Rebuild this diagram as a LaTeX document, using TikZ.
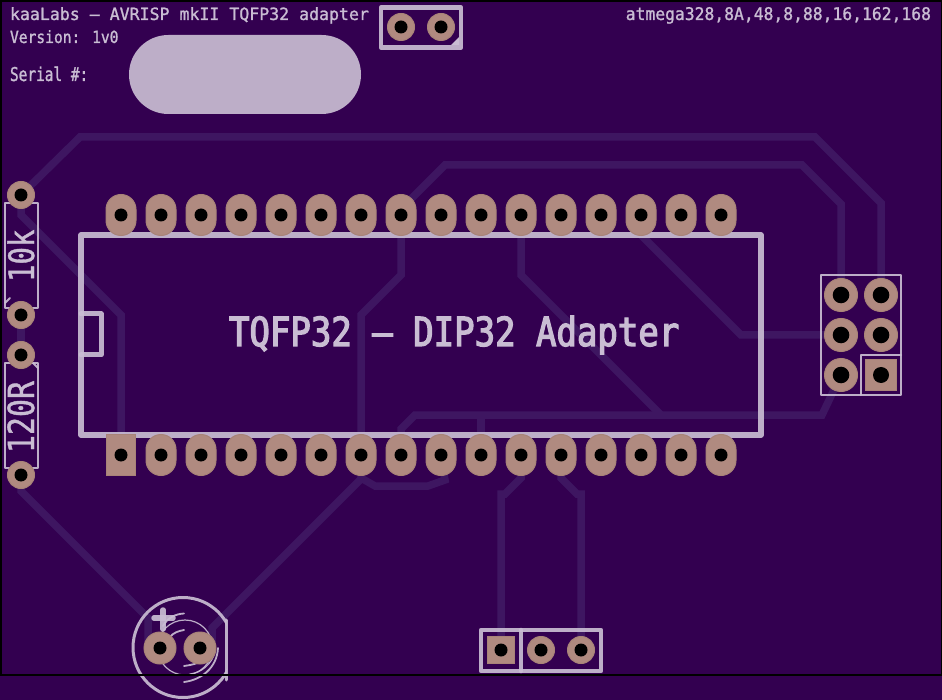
\documentclass[tikz,border=0pt]{standalone}
\usepackage{fontspec}
\usetikzlibrary{shapes.misc}
\setmainfont{DejaVu Sans Mono}
\newfontfamily\pcbtitle[FakeBold=1.2,FakeStretch=.98]{DejaVu Sans Mono}
\newfontfamily\pcbversion[FakeBold=1.2,FakeStretch=.87]{DejaVu Sans Mono}
\newfontfamily\pcbserial[FakeBold=1.2,FakeStretch=.76]{DejaVu Sans Mono}
\newfontfamily\pcbparts[FakeBold=1.2,FakeStretch=.94]{DejaVu Sans Mono}
\newfontfamily\pcbbig[FakeBold=3,FakeStretch=.85]{DejaVu Sans Mono}
\newfontfamily\pcbres[FakeBold=1,FakeStretch=.83]{DejaVu Sans Mono}
\definecolor{board}{HTML}{330050}
\definecolor{trackc}{HTML}{3E1661}
\definecolor{silkc}{HTML}{C9BDD3}
\definecolor{padc}{HTML}{B08A80}
\definecolor{padedge}{HTML}{A88378}
\pgfdeclarelayer{tracks}
\pgfdeclarelayer{silk}
\pgfdeclarelayer{front}
\pgfsetlayers{tracks,silk,main,front}
\tikzset{
  track/.style={draw=trackc,line width=7.5pt,line join=miter},
  silkline/.style={draw=silkc,opacity=.92,line join=round,line cap=round},
  silkthick/.style={silkline,line width=4.5pt},
  silkthin/.style={silkline,line width=2pt},
  silkfine/.style={silkline,line width=1.2pt},
  pcbbase/.style={inner sep=0pt,outer sep=0pt,draw=padedge,line width=1pt,fill=padc},
  ovalpad/.style={pcbbase,rounded rectangle,rotate=90,minimum width=41pt,minimum height=30pt},
  sqpad/.style={pcbbase,rectangle,minimum width=#1,minimum height=#1},
  tallpad/.style={pcbbase,rectangle,minimum width=29pt,minimum height=41pt},
  roundpad/.style={pcbbase,circle,minimum size=#1},
  hole/.style={fill=black},
  label/.style={inner sep=0pt,outer sep=0pt,text=silkc,anchor=base west},
}
\begin{document}
\begin{tikzpicture}[x=1pt,y=-1pt]
\useasboundingbox (0,0) rectangle (942,700);
\begin{pgfonlayer}{tracks}
\fill[board] (0,0) rectangle (942,700);
\end{pgfonlayer}

% pads
\node[tallpad] (b0) at (121,455) {};
\foreach \i [evaluate=\i as \px using {121+40*\i}] in {0,...,15}{
  \node[ovalpad] (t\i) at (\px,215) {};
  \fill[hole] (t\i.center) circle (6.5);
}
\foreach \i [evaluate=\i as \px using {121+40*\i}] in {1,...,15}{
  \node[ovalpad] (b\i) at (\px,455) {};
  \fill[hole] (b\i.center) circle (6.5);
}
\fill[hole] (b0.center) circle (6.5);
\foreach \n/\px/\py in {ra/21/195,rb/21/315,rc/21/355,rd/21/475,ja/401/27,jb/441/27,pb/541/650,pc/581/650}{
  \node[roundpad=27pt] (\n) at (\px,\py) {};
  \fill[hole] (\n.center) circle (6.5);
}
\node[sqpad=27pt] (pa) at (501,650) {};
\fill[hole] (pa.center) circle (6.5);
\foreach \n/\px/\py in {ca/160/648,cb/200/648}{
  \node[roundpad=32pt] (\n) at (\px,\py) {};
  \fill[hole] (\n.center) circle (6.5);
}
\foreach \n/\px/\py in {ia/841/295,ib/881/295,ic/841/335,id/881/335,ie/841/375}{
  \node[roundpad=33pt] (\n) at (\px,\py) {};
  \fill[hole] (\n.center) circle (8.3);
}
\node[sqpad=31pt] (if) at (881,375) {};
\fill[hole] (if.center) circle (8);

% tracks
\begin{pgfonlayer}{tracks}
\draw[track] (ra.center) -- (80,137) -- (815,137) -- (881,203) -- (ib.center);
\draw[track] (t7.center) -- (401,209) -- (445,165) -- (802,165) -- (841,204) -- (ia.center);
\draw[track] (t7.center) -- (401,275) -- (361,315) -- (b6.center);
\draw[track] (t10.center) -- (521,275) -- (661,415);
\draw[track] (t13.center) -- (641,235) -- (741,335) -- (ic.center);
\draw[track] (ie.center) -- (822,415) -- (415,415) -- (401,429) -- (b7.center);
\draw[track] (481,415) -- (b9.center);
\draw[track] (ra.center) -- (21,215) -- (121,315) -- (b0.center);
\draw[track] (rb.center) -- (rc.center);
\draw[track] (b10.center) -- (521,478) -- (505,494) -- (501,494) -- (pa.center);
\draw[track] (b11.center) -- (561,478) -- (577,494) -- (581,494) -- (pc.center);
\draw[track] (b6.center) -- (361,478) -- (375,486) -- (428,486) -- (445,480) -- (b8.center);
\draw[track] (361,479) -- (212,628) -- (212,640) -- (cb.center);
\draw[track] (rd.center) -- (21,491) -- (148,618) -- (148,640) -- (ca.center);
\end{pgfonlayer}

% silkscreen
\begin{pgfonlayer}{silk}
\draw[silkline,line width=5.5pt] (81,235) rectangle (761,435);
\draw[silkline,line width=5pt] (81,314) -- (101,314) -- (101,355) -- (81,355);
\fill[silkc,opacity=.92,rounded corners=39.4pt] (129,35) rectangle (361,114);
\draw[silkthick] (381,7.5) rectangle (461,47.5);
\fill[silkc] (451,45) -- (459,37) -- (459,45) -- cycle;
\draw[silkthick] (481,630) rectangle (601,671);
\draw[silkthick] (521,630) -- (521,671);
\draw[silkthin] (5,203) rectangle (38,308);
\draw[silkthin] (5,303) -- (10,298);
\draw[silkthin] (5,363) rectangle (38,468);
\draw[silkthin] (38,368) -- (33,363);
\draw[silkthin] (821,275) rectangle (901,395);
\draw[silkthin] (861,395) -- (861,355) -- (901,355);
% capacitor
\begin{scope}
\clip (120,590) rectangle (226.5,700);
\draw[silkline,line width=3pt] (183,647.5) circle (50);
\end{scope}
\draw[silkline,line width=3pt] (226,620) -- (226,680);
\draw[silkfine] (185,647.5) circle (27.5);
\draw[silkline,line width=5.5pt] (154,618) -- (173,618);
\draw[silkline,line width=5.5pt] (163,610) -- (163,629);
\draw[silkfine,line width=1.8pt] (163,626) .. controls (168,617) and (176,614) .. (184,613.5);
\draw[silkfine,line width=1.8pt] (170,637) .. controls (173,633) and (178,631) .. (184,630);
\draw[silkfine,line width=1.8pt] (184,666) .. controls (191,665) and (197,664) .. (203,660);
\draw[silkfine,line width=1.8pt] (184,682) .. controls (201,680) and (217,668) .. (218,648);
\draw[silkfine] (190,674) .. controls (201,673) and (212,664) .. (215,652);
\end{pgfonlayer}

% texts
\node[label,font=\fontsize{16.9}{20}\pcbtitle] (title) at (10,20) {kaaLabs — AVRISP mkII TQFP32 adapter};
\node[label,font=\fontsize{16.8}{20}\pcbversion] (version) at (10,43) {Version: 1v0};
\node[label,font=\fontsize{19}{22}\pcbserial] (serial) at (10,81) {Serial \#:};
\node[label,anchor=base east,font=\fontsize{17.4}{20}\pcbparts] (parts) at (931,20) {atmega328,8A,48,8,88,16,162,168};
\node[label,font=\fontsize{40}{44}\pcbbig] (heading) at (229,346) {TQFP32 — DIP32 Adapter};
\node[label,rotate=90,font=\fontsize{35}{38}\pcbres] (rtop) at (34,282) {10k};
\node[label,rotate=90,font=\fontsize{36}{38}\pcbres] (rbot) at (34,453) {120R};

\begin{pgfonlayer}{front}
\draw[black,line width=2pt] (0,675) -- (942,675);
\fill[black] (0,0) rectangle (942,2);
\fill[black] (0,0) rectangle (2,675);
\fill[black] (940.5,0) rectangle (942,675);
\end{pgfonlayer}
\end{tikzpicture}
\end{document}
